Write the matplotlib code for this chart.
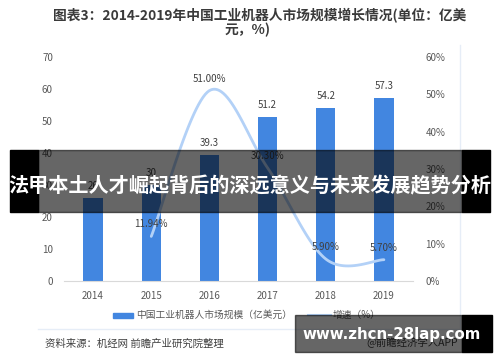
import numpy as np
import matplotlib
matplotlib.use('Agg')
from matplotlib import pyplot as plt
from matplotlib.patches import Rectangle
from matplotlib.lines import Line2D

plt.rcParams['font.family'] = ['Noto Sans CJK SC', 'DejaVu Sans']

# données
years = ['2014', '2015', '2016', '2017', '2018', '2019']
market = [26, 30, 39.3, 51.2, 54.2, 57.3]
market_labels = ['26', '30', '39.3', '51.2', '54.2', '57.3']
growth_years = [1, 2, 3, 4, 5]
growth = [11.94, 51.00, 30.30, 5.90, 5.70]
growth_labels = ['11.94%', '51.00%', '30.30%', '5.90%', '5.70%']

W, H = 500, 362
def fx(x):
    return x / W
def fy(y):
    return 1 - y / H

BAR = '#4286e0'
LINE = '#b3d1f7'
GREY = '#595959'

fig = plt.figure(figsize=(5, 3.62), dpi=100)
fig.patch.set_facecolor('white')

ax = fig.add_axes([fx(64), fy(281), fx(413) - fx(64), fy(57) - fy(281)])
x = np.arange(len(years))
ax.bar(x, market, width=0.33, color=BAR, zorder=2)
for xi, v, lab in zip(x, market, market_labels):
    ax.text(xi, v + 2.2, lab, ha='center', va='bottom', fontsize=7, color='#404040')
ax.set_xlim(-0.5, 5.5)
ax.set_ylim(0, 70)
ax.set_yticks(range(0, 71, 10))
ax.set_xticks(x)
ax.set_xticklabels(years)
for s in ['top', 'left', 'right']:
    ax.spines[s].set_visible(False)
ax.spines['bottom'].set_color('#d9d9d9')
ax.tick_params(length=0, labelsize=7, colors=GREY)
ax.tick_params(axis='y', pad=8)
ax.tick_params(axis='x', pad=7)

ax2 = ax.twinx()
ax2.set_ylim(0, 60)
ax2.set_yticks(range(0, 61, 10))
ax2.set_yticklabels([f'{t}%' for t in range(0, 61, 10)])
for s in ax2.spines.values():
    s.set_visible(False)
ax2.tick_params(length=0, labelsize=7, colors=GREY, pad=9)

# courbe lissée (type Excel, Catmull-Rom)
P = np.column_stack([growth_years, growth]).astype(float)
Pe = np.vstack([P[0], P, P[-1]])
cx, cy = [], []
t = np.linspace(0, 1, 30)
for i in range(len(P) - 1):
    p0, p1, p2, p3 = Pe[i], Pe[i + 1], Pe[i + 2], Pe[i + 3]
    c1 = p1 + (p2 - p0) / 6
    c2 = p2 - (p3 - p1) / 6
    b = ((1 - t) ** 3)[:, None] * p1 + (3 * (1 - t) ** 2 * t)[:, None] * c1 \
        + (3 * (1 - t) * t ** 2)[:, None] * c2 + (t ** 3)[:, None] * p2
    cx.extend(b[:, 0]); cy.extend(b[:, 1])
ax2.plot(cx, cy, color=LINE, lw=2, solid_capstyle='round', zorder=3)
for xi, v, lab in zip(growth_years, growth, growth_labels):
    ax2.text(xi, v + 3.2, lab, ha='center', va='center', fontsize=7, color='#404040')

# titre
fig.text(fx(260), fy(16), '图表3：2014-2019年中国工业机器人市场规模增长情况(单位：亿美',
         ha='center', va='center', fontsize=9.9, fontweight='bold', color='#3a3a3a')
fig.text(fx(248), fy(30), '元，%)', ha='center', va='center', fontsize=9.9,
         fontweight='bold', color='#3a3a3a')

# légende
fig.patches.append(Rectangle((fx(113), fy(318)), fx(20), 5 / H, transform=fig.transFigure,
                             color=BAR, zorder=1))
fig.text(fx(136), fy(315), '中国工业机器人市场规模（亿美元）', ha='left', va='center',
         fontsize=7, color=GREY)
fig.lines.append(Line2D([fx(308), fx(331)], [fy(315), fy(315)], transform=fig.transFigure,
                        color=LINE, lw=1.5))
fig.text(fx(333), fy(315), '增速（%）', ha='left', va='center', fontsize=7, color=GREY)

# cadre
fig.lines.append(Line2D([fx(38), fx(460)], [fy(329), fy(329)], transform=fig.transFigure,
                        color='#e6edf7', lw=1))
fig.lines.append(Line2D([fx(460), fx(460)], [fy(45), fy(329)], transform=fig.transFigure,
                        color='#e6edf7', lw=1))

fig.text(fx(45), fy(344), '资料来源：机经网 前瞻产业研究院整理', ha='left', va='center',
         fontsize=7.5, color='#404040')
fig.text(fx(458), fy(342), '@前瞻经济学人APP', ha='right', va='center',
         fontsize=7.5, color='#404040')

# bandeau
fig.patches.append(Rectangle((fx(38), fy(212)), fx(462) - fx(38), 62 / H,
                             transform=fig.transFigure, color='black', alpha=0.6, zorder=5))
fig.patches.append(Rectangle((fx(10), fy(212)), fx(28), 62 / H,
                             transform=fig.transFigure, color='black', zorder=5))
fig.patches.append(Rectangle((fx(462), fy(212)), fx(28), 62 / H,
                             transform=fig.transFigure, color='black', zorder=5))
fig.text(fx(250), fy(186), '法甲本土人才崛起背后的深远意义与未来发展趋势分析', ha='center',
         va='center', fontsize=14.5, fontweight='bold', color='white', zorder=6)

# filigrane bas
fig.patches.append(Rectangle((fx(295), fy(352)), fx(462) - fx(295), 37 / H,
                             transform=fig.transFigure, color='black', alpha=0.6, zorder=5))
fig.patches.append(Rectangle((fx(462), fy(352)), fx(30), 37 / H,
                             transform=fig.transFigure, color='black', zorder=5))
fig.text(fx(392), fy(334), 'www.zhcn-28lap.com', ha='center', va='center', fontsize=10.8,
         fontweight='bold', color='white', family='DejaVu Sans', zorder=6)

fig.savefig('out.png', dpi=100)
